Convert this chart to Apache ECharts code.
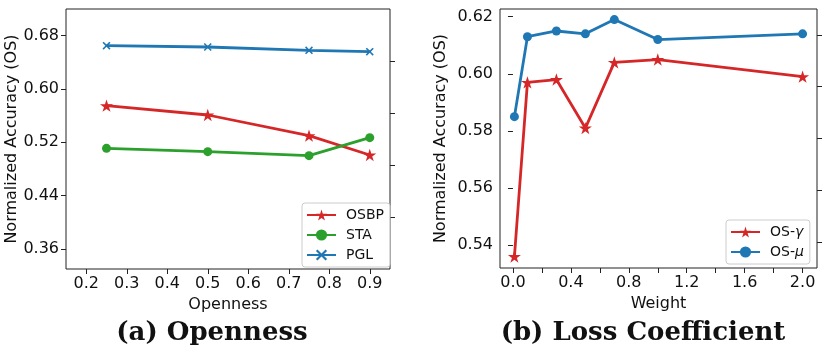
<!DOCTYPE html>
<html>
<head>
<meta charset="utf-8">
<script src="https://cdn.jsdelivr.net/npm/echarts@6/dist/echarts.min.js"></script>
<style>
html,body{margin:0;padding:0;background:#fff;}
#c{width:830px;height:356px;}
</style>
</head>
<body>
<div id="c"></div>
<script>
// ---- data ----
const opennessX = [0.25, 0.5, 0.75, 0.9];
const osbp = [0.575, 0.561, 0.530, 0.501];
const sta = [0.511, 0.506, 0.500, 0.527];
const pgl = [0.665, 0.663, 0.658, 0.656];
const opennessTicks = [0.2, 0.3, 0.4, 0.5, 0.6, 0.7, 0.8, 0.9];
const leftYTicks = [0.36, 0.44, 0.52, 0.60, 0.68];

const weightX = [0.01, 0.1, 0.3, 0.5, 0.7, 1.0, 2.0];
const osGamma = [0.536, 0.597, 0.598, 0.581, 0.604, 0.605, 0.599];
const osMu = [0.585, 0.613, 0.615, 0.614, 0.619, 0.612, 0.614];
const weightTicks = [0.0, 0.4, 0.8, 1.2, 1.6, 2.0];
const weightMinorTicks = [0.0, 0.2, 0.4, 0.6, 0.8, 1.0, 1.2, 1.4, 1.6, 1.8, 2.0];
const rightYTicks = [0.54, 0.56, 0.58, 0.60, 0.62];
const twinTicksLeft = [0.2, 0.4, 0.6, 0.8];
const twinTicksRight = [0.1, 0.3, 0.5, 0.7, 0.9];

const RED = '#d62728', GREEN = '#2ca02c', BLUE = '#1f77b4';

function starPath() {
  let p = [];
  for (let i = 0; i < 10; i++) {
    const a = (-90 + i * 36) * Math.PI / 180;
    const r = i % 2 ? 0.382 : 1;
    p.push((50 + 50 * r * Math.cos(a)).toFixed(2) + ',' + (50 + 50 * r * Math.sin(a)).toFixed(2));
  }
  return 'path://M' + p.join('L') + 'Z';
}
const STAR = starPath();
const XMARK = 'path://M0,14L14,0L50,36L86,0L100,14L64,50L100,86L86,100L50,64L14,100L0,86L36,50Z';

const chart = echarts.init(document.getElementById('c'), null, {renderer: 'canvas'});
const FONT = 'DejaVu Sans';
const TXT = '#111';
const pair = (xs, ys) => xs.map((x, i) => [x, ys[i]]);

function xAx(grid, min, max, labels, ticks, name, nameGap, dec) {
  return {
    type: 'value', gridIndex: grid, min: min, max: max,
    name: name, nameLocation: 'middle', nameGap: nameGap,
    nameTextStyle: {fontFamily: FONT, fontSize: 16, color: TXT},
    axisLine: {show: false},
    axisTick: {show: true, inside: false, length: 5, lineStyle: {color: '#222', width: 1}, customValues: ticks},
    axisLabel: {show: true, margin: 7, fontFamily: FONT, fontSize: 16, color: TXT,
      customValues: labels, formatter: v => v.toFixed(dec)},
    splitLine: {show: false}
  };
}
function yAx(grid, min, max, labels, name, nameGap) {
  return {
    type: 'value', gridIndex: grid, min: min, max: max, position: 'left',
    name: name, nameLocation: 'middle', nameGap: nameGap, nameRotate: 90,
    nameTextStyle: {fontFamily: FONT, fontSize: 16, color: TXT},
    axisLine: {show: false},
    axisTick: {show: true, inside: false, length: 5, lineStyle: {color: '#222', width: 1}, customValues: labels},
    axisLabel: {show: true, margin: 7, fontFamily: FONT, fontSize: 16, color: TXT,
      customValues: labels, formatter: v => v.toFixed(2)},
    splitLine: {show: false}
  };
}
function twinAx(grid, ticks) {
  return {
    type: 'value', gridIndex: grid, min: 0, max: 1, position: 'right',
    axisLine: {show: false},
    axisTick: {show: true, inside: false, length: 5, lineStyle: {color: '#222', width: 1}, customValues: ticks},
    axisLabel: {show: false},
    splitLine: {show: false}
  };
}
function line(name, xi, yi, data, color, symbol, size) {
  return {
    name: name, type: 'line', xAxisIndex: xi, yAxisIndex: yi, data: data,
    symbol: symbol, symbolSize: size, symbolKeepAspect: true, showSymbol: true,
    lineStyle: {color: color, width: 2.8},
    itemStyle: {color: color, borderColor: color, borderWidth: 0},
    emphasis: {disabled: true}, animation: false, z: 3
  };
}
const legendBase = {
  orient: 'vertical', itemWidth: 29, itemHeight: 14, itemGap: 6,
  backgroundColor: 'rgba(255,255,255,0.85)', borderColor: '#cccccc', borderWidth: 1, borderRadius: 3,
  textStyle: {fontFamily: FONT, fontSize: 14, color: TXT, padding: [0, 0, 0, 5],
    rich: {i: {fontFamily: FONT, fontSize: 14, fontStyle: 'italic', color: TXT}}},
  formatter: n => n.replace(/([γμ])/, '{i|$1}')
};

chart.setOption({
  animation: false,
  grid: [
    {left: 66, top: 9, width: 324, height: 260, show: true, borderColor: '#222', borderWidth: 1, backgroundColor: 'transparent'},
    {left: 500, top: 9, width: 317, height: 259, show: true, borderColor: '#222', borderWidth: 1, backgroundColor: 'transparent'}
  ],
  xAxis: [
    xAx(0, 0.15, 0.95, opennessTicks, opennessTicks, 'Openness', 26, 1),
    xAx(1, -0.0895, 2.0995, weightTicks, weightMinorTicks, 'Weight', 26, 1)
  ],
  yAxis: [
    yAx(0, 0.33, 0.72, leftYTicks, 'Normalized Accuracy (OS)', 46),
    twinAx(0, twinTicksLeft),
    yAx(1, 0.532, 0.6227, rightYTicks, 'Normalized Accuracy (OS)', 51),
    twinAx(1, twinTicksRight)
  ],
  legend: [
    Object.assign({}, legendBase, {left: 302, top: 203, padding: [5, 6, 5, 4], data: ['OSBP', 'STA', 'PGL']}),
    Object.assign({}, legendBase, {left: 726, top: 220, padding: [5, 6, 5, 4], data: ['OS-γ', 'OS-μ']})
  ],
  series: [
    line('OSBP', 0, 0, pair(opennessX, osbp), RED, STAR, 13),
    line('STA', 0, 0, pair(opennessX, sta), GREEN, 'circle', 9),
    line('PGL', 0, 0, pair(opennessX, pgl), BLUE, XMARK, 8),
    line('OS-γ', 1, 2, pair(weightX, osGamma), RED, STAR, 13),
    line('OS-μ', 1, 2, pair(weightX, osMu), BLUE, 'circle', 9)
  ],
  graphic: [
    {type: 'text', x: 212, y: 333, style: {text: '(a) Openness', font: 'bold 26px "DejaVu Serif"', fill: '#111', align: 'center', verticalAlign: 'middle'}},
    {type: 'text', x: 643, y: 333, style: {text: '(b) Loss Coefficient', font: 'bold 26px "DejaVu Serif"', fill: '#111', align: 'center', verticalAlign: 'middle'}}
  ]
});
</script>
</body>
</html>
